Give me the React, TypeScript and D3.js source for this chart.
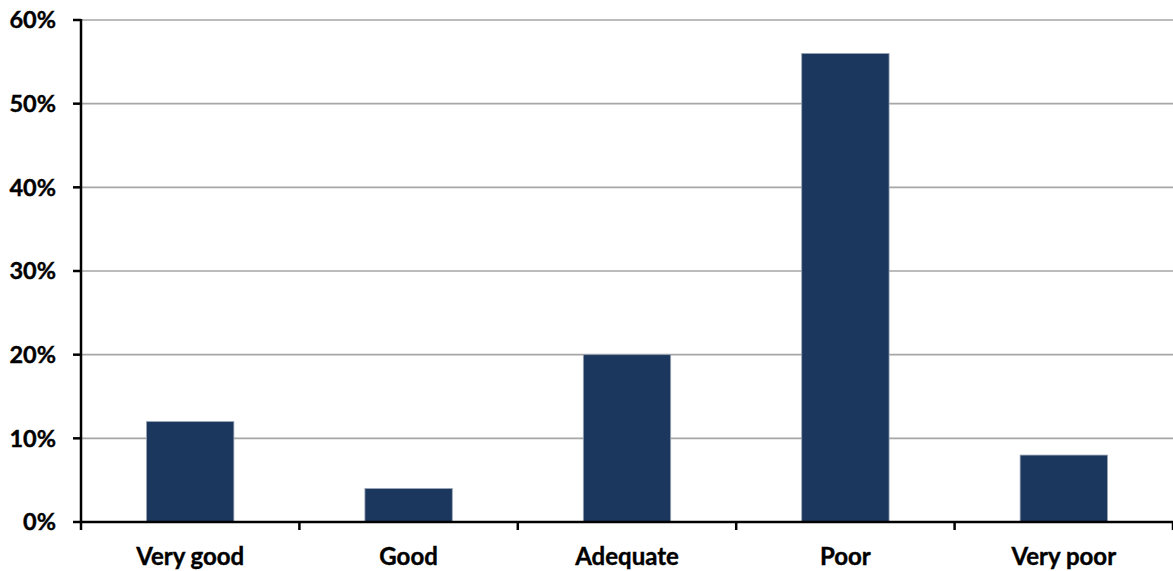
import React from "react";
import * as d3 from "d3";

const categories = ["Very good", "Good", "Adequate", "Poor", "Very poor"];
const values = [12, 4, 20, 56, 8];
const yTicks = [0, 10, 20, 30, 40, 50, 60];

export default function App() {
  const W = 1173, H = 571;
  const left = 81, right = 1173, top = 20, bottom = 522;
  const x = d3.scaleBand<string>().domain(categories).range([left, right]).paddingInner(0.6).paddingOuter(0.3);
  const y = d3.scaleLinear().domain([0, 60]).range([bottom, top]);
  const step = x.step();
  const boundaries = d3.range(categories.length + 1).map((i) => left + i * step);
  const font = "Lato, 'Open Sans', sans-serif";
  return (
    <svg width={W} height={H} style={{ position: "absolute", left: 0, top: 0 }} fontFamily={font}>
      <rect width={W} height={H} fill="#fff" />
      {yTicks.filter((t) => t > 0).map((t) => (
        <line key={t} x1={left} x2={right} y1={y(t)} y2={y(t)} stroke="#a6a6a6" strokeWidth={1.6} />
      ))}
      {categories.map((c, i) => (
        <rect key={c} x={x(c)} y={y(values[i])} width={x.bandwidth()} height={bottom - y(values[i])}
          fill="#1b375e" stroke="#9aa5b5" strokeWidth={0.8} />
      ))}
      <line x1={left} x2={left} y1={top - 1} y2={bottom + 1} stroke="#000" strokeWidth={2.5} />
      <line x1={left - 1} x2={right} y1={bottom} y2={bottom} stroke="#000" strokeWidth={2.5} />
      {yTicks.map((t) => (
        <g key={t}>
          <line x1={left - 8} x2={left} y1={y(t)} y2={y(t)} stroke="#000" strokeWidth={2.5} />
          <text x={56} y={y(t)} dy="0.35em" textAnchor="end" fontSize={23.5} fontWeight={700} fill="#000" stroke="#000" strokeWidth={0.4}>{t}%</text>
        </g>
      ))}
      {boundaries.map((b, i) => (
        <line key={i} x1={b} x2={b} y1={bottom} y2={bottom + 8} stroke="#000" strokeWidth={2.5} />
      ))}
      {categories.map((c) => (
        <text key={c} x={(x(c) as number) + x.bandwidth() / 2} y={557} dy="0.35em" textAnchor="middle" fontSize={24} fontWeight={700} fill="#000" stroke="#000" strokeWidth={0.4}>{c}</text>
      ))}
    </svg>
  );
}
